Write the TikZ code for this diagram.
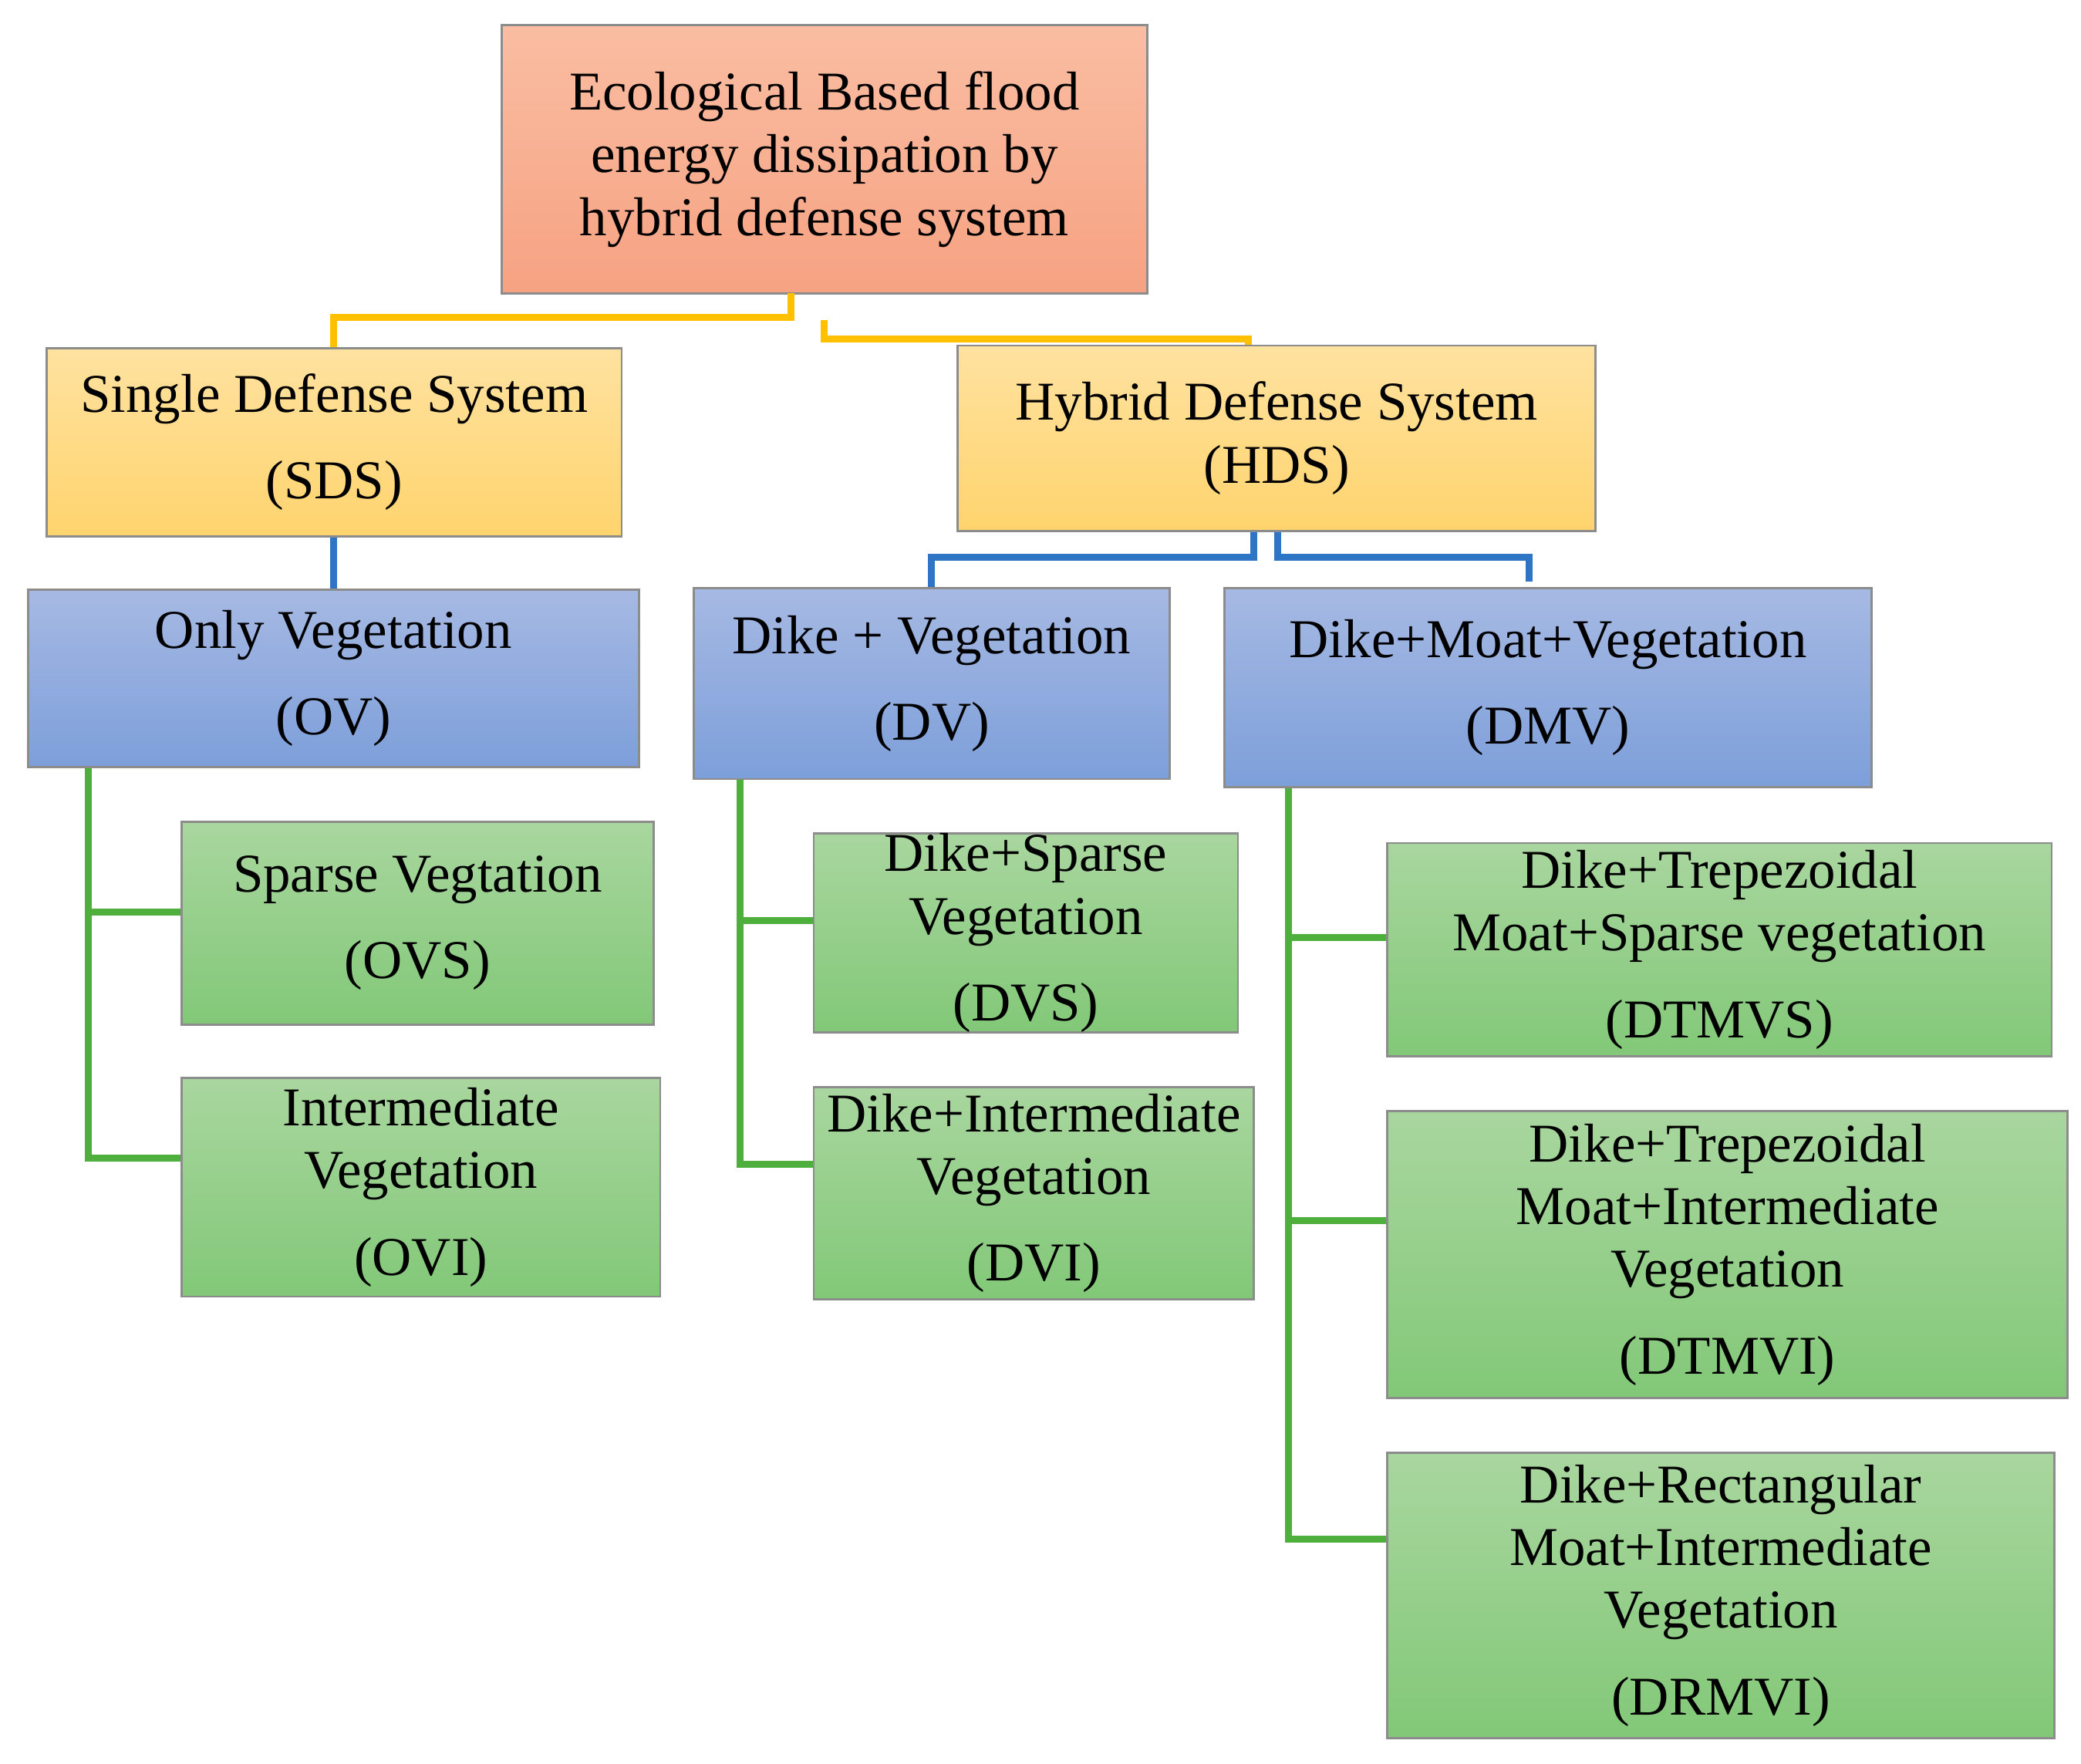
\documentclass[tikz,border=0pt]{standalone}
\usepackage{fontspec}
\setmainfont{Liberation Serif}
\definecolor{rT}{HTML}{FABDA2}\definecolor{rB}{HTML}{F6A282}
\definecolor{yT}{HTML}{FFE2A0}\definecolor{yB}{HTML}{FFD46E}
\definecolor{bT}{HTML}{A6B9E3}\definecolor{bB}{HTML}{7D9FDA}
\definecolor{gT}{HTML}{A9D69F}\definecolor{gB}{HTML}{82C878}
\definecolor{cY}{HTML}{FFC000}\definecolor{cB}{HTML}{2E75C6}\definecolor{cG}{HTML}{4FAF3C}
\begin{document}
\begin{tikzpicture}[x=0.5pt,y=-0.5pt,
  bx/.style={draw=black!45,line width=0.8pt,inner sep=0pt,align=center,
    font=\fontsize{20.5}{23.5}\selectfont},
  red/.style={bx,top color=rT,bottom color=rB},
  yel/.style={bx,top color=yT,bottom color=yB},
  blu/.style={bx,top color=bT,bottom color=bB},
  grn/.style={bx,top color=gT,bottom color=gB},
  cy/.style={draw=cY,line width=2.6pt},
  cb/.style={draw=cB,line width=2.6pt},
  cg/.style={draw=cG,line width=2.6pt}]
\useasboundingbox (0,0) rectangle (1560,1322);
\newcommand\bx[6]{\node[#6,minimum width={(#3-#1)*0.5pt},minimum height={(#4-#2)*0.5pt}] (#5) at ({(#1+#3)/2},{(#2+#4)/2})}
\bx{376}{19}{860}{220}{top}{red}{Ecological Based flood\\energy dissipation by\\hybrid defense system};
\bx{35}{261}{466}{402}{sds}{yel}{Single Defense System\\[9pt](SDS)};
\bx{718}{259}{1196}{398}{hds}{yel}{Hybrid Defense System\\(HDS)};
\bx{21}{442}{479}{575}{ov}{blu}{Only Vegetation\\[9pt](OV)};
\bx{520}{441}{877}{584}{dv}{blu}{Dike + Vegetation\\[9pt](DV)};
\bx{918}{441}{1403}{590}{dmv}{blu}{Dike+Moat+Vegetation\\[9pt](DMV)};
\bx{136}{616}{490}{768}{ovs}{grn}{Sparse Vegtation\\[9pt](OVS)};
\bx{136}{808}{495}{972}{ovi}{grn}{Intermediate\\Vegetation\\[9pt](OVI)};
\bx{610}{625}{928}{774}{dvs}{grn}{Dike+Sparse\\Vegetation\\[9pt](DVS)};
\bx{610}{815}{940}{974}{dvi}{grn}{Dike+Intermediate\\Vegetation\\[9pt](DVI)};
\bx{1040}{632}{1538}{792}{dtmvs}{grn}{Dike+Trepezoidal\\Moat+Sparse vegetation\\[9pt](DTMVS)};
\bx{1040}{833}{1550}{1048}{dtmvi}{grn}{Dike+Trepezoidal\\Moat+Intermediate\\Vegetation\\[9pt](DTMVI)};
\bx{1040}{1089}{1540}{1303}{drmvi}{grn}{Dike+Rectangular\\Moat+Intermediate\\Vegetation\\[9pt](DRMVI)};
% yellow
\coordinate (t1) at (593,220); \coordinate (t2) at (618,240);
\draw[cy] (t1) -- (593,238) -- (250,238) -- (sds.north -| 250,0);
\draw[cy] (t2) -- (618,254) -- (936,254) -- (hds.north -| 936,0);
% blue
\draw[cb] (sds.south -| 250,0) -- (ov.north -| 250,0);
\draw[cb] (hds.south -| 940,0) -- (940,418) -- (698,418) -- (dv.north -| 698,0);
\draw[cb] (hds.south -| 958,0) -- (958,418) -- (1146,418) -- (1146,436);
% green
\draw[cg] (ov.south -| 66,0) -- (66,868) -- (ovi.west |- 0,868);
\draw[cg] (66,684) -- (ovs.west |- 0,684);
\draw[cg] (dv.south -| 555,0) -- (555,873) -- (dvi.west |- 0,873);
\draw[cg] (555,690) -- (dvs.west |- 0,690);
\draw[cg] (dmv.south -| 966,0) -- (966,1154) -- (drmvi.west |- 0,1154);
\draw[cg] (966,703) -- (dtmvs.west |- 0,703);
\draw[cg] (966,915) -- (dtmvi.west |- 0,915);
\end{tikzpicture}
\end{document}
